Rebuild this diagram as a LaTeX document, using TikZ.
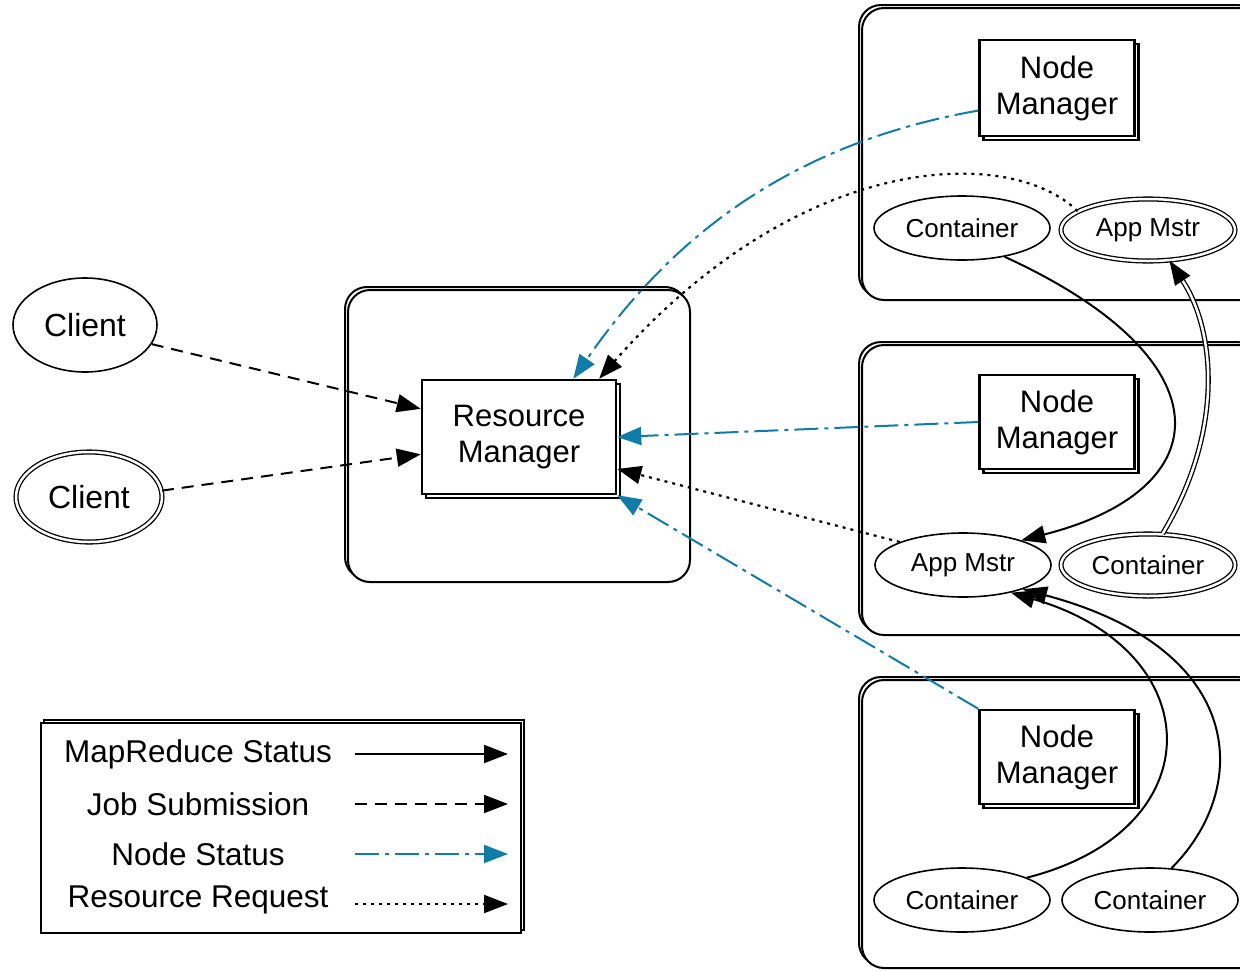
\documentclass[tikz,border=0pt]{standalone}
\usepackage{fontspec}
\setmainfont{Liberation Sans}
\usetikzlibrary{arrows.meta,shadows,shapes.geometric}

\definecolor{nodeblue}{RGB}{16,124,168}

\begin{document}
\begin{tikzpicture}[x=1pt,y=-1pt,
  host/.style={draw, line width=2pt, rounded corners=22pt, fill=white,
    copy shadow={shadow xshift=-3pt, shadow yshift=3pt}},
  mgr/.style={draw, line width=2.5pt, fill=white, align=center, inner sep=0pt,
    font=\fontsize{31}{36}\selectfont,
    copy shadow={shadow xshift=4pt, shadow yshift=-4pt}},
  ell/.style={ellipse, draw, line width=1.6pt, fill=white, inner sep=0pt,
    minimum width=176pt, minimum height=64pt, font=\fontsize{26}{30}\selectfont},
  dbl/.style={double, double distance=2.5pt, line width=1.3pt},
  lbl/.style={font=\fontsize{31.5}{36}\selectfont, inner sep=0pt},
  flow/.style={line width=2pt, -{Triangle[length=24pt,width=18pt]}},
  mrstatus/.style={flow},
  jobsub/.style={flow, dash pattern=on 12pt off 8pt},
  nodestatus/.style={flow, color=nodeblue, dash pattern=on 24pt off 6pt on 4pt off 6pt},
  resreq/.style={flow, line width=2.2pt, dash pattern=on 3pt off 5pt},
]
\useasboundingbox (0,0) rectangle (1240,970);
\clip (0,0) rectangle (1240,970);

% hosts
\node[host, minimum width=342pt, minimum height=292pt] (rmhost) at (519,436) {};
\node[host, minimum width=400pt, minimum height=292pt] (host1) at (1062,154) {};
\node[host, minimum width=400pt, minimum height=290pt] (host2) at (1062,490) {};
\node[host, minimum width=400pt, minimum height=288pt] (host3) at (1062,824) {};

% managers
\node[mgr, minimum width=194pt, minimum height=114pt] (rm) at (519,437) {Resource\\Manager};
\node[mgr, minimum width=155pt, minimum height=96pt] (nm1) at (1057,88) {Node\\Manager};
\node[mgr, minimum width=155pt, minimum height=94pt] (nm2) at (1057,422) {Node\\Manager};
\node[mgr, minimum width=155pt, minimum height=94pt] (nm3) at (1057,757) {Node\\Manager};

% clients
\node[ell, minimum width=144pt, minimum height=94pt, font=\fontsize{32}{36}\selectfont] (client1) at (85,325) {Client};
\node[ell, dbl, minimum width=146pt, minimum height=90pt, font=\fontsize{32}{36}\selectfont] (client2) at (89,497) {Client};

% containers and application masters
\node[ell] (cont1) at (962,228) {Container};
\node[ell, dbl, minimum width=174pt, minimum height=62pt] (appm1) at (1148,230) {App Mstr};
\node[ell] (appm2) at (963,565) {App Mstr};
\node[ell, dbl, minimum width=174pt, minimum height=62pt] (cont2) at (1148,565) {Container};
\node[ell] (cont3a) at (962,900) {Container};
\node[ell] (cont3b) at (1150,900) {Container};

% job submission
\draw[jobsub] (client1.-16) -- (rm.164);
\draw[jobsub] (client2.5) -- (rm.190);

% node status
\draw[nodestatus] (nm1.196) .. controls +(-200,35) and +(90,-130) .. (rm.47);
\draw[nodestatus] (nm2.west) -- (rm.east);
\draw[nodestatus] (nm3.north west) -- (rm.south east);

% resource requests
\draw[resreq] (appm1.165) .. controls (1010,145) and (800,150) .. (rm.36);
\draw[resreq] (appm2.160) -- (rm.-18);

% mapreduce status
\draw[mrstatus] (cont1.-34) .. controls (1230,360) and (1220,490) .. (appm2.23);
\draw[mrstatus, dbl] (cont2.65) .. controls (1225,430) and (1215,330) .. (appm1.-55);
\draw[mrstatus] (cont3a.19) .. controls (1215,830) and (1210,650) .. (appm2.-30);
\draw[mrstatus] (cont3b.56) .. controls (1250,790) and (1250,650) .. (appm2.-22);

% legend
\node[draw, line width=2pt, fill=white, minimum width=480pt, minimum height=210pt,
  copy shadow={shadow xshift=3pt, shadow yshift=3pt}] (legend) at (281,828) {};
\node[lbl] (lg1) at (198,754) {MapReduce Status};
\node[lbl] (lg2) at (198,804) {Job Submission};
\node[lbl] (lg3) at (198,854) {Node Status};
\node[lbl] (lg4) at (198,900) {Resource Request};
\coordinate (l1a) at (355,754); \coordinate (l1b) at (508,754);
\coordinate (l2a) at (355,804); \coordinate (l2b) at (508,804);
\coordinate (l3a) at (355,854); \coordinate (l3b) at (508,854);
\coordinate (l4a) at (355,904); \coordinate (l4b) at (508,904);
\draw[mrstatus] (l1a) -- (l1b);
\draw[jobsub] (l2a) -- (l2b);
\draw[nodestatus] (l3a) -- (l3b);
\draw[resreq] (l4a) -- (l4b);
\end{tikzpicture}
\end{document}
